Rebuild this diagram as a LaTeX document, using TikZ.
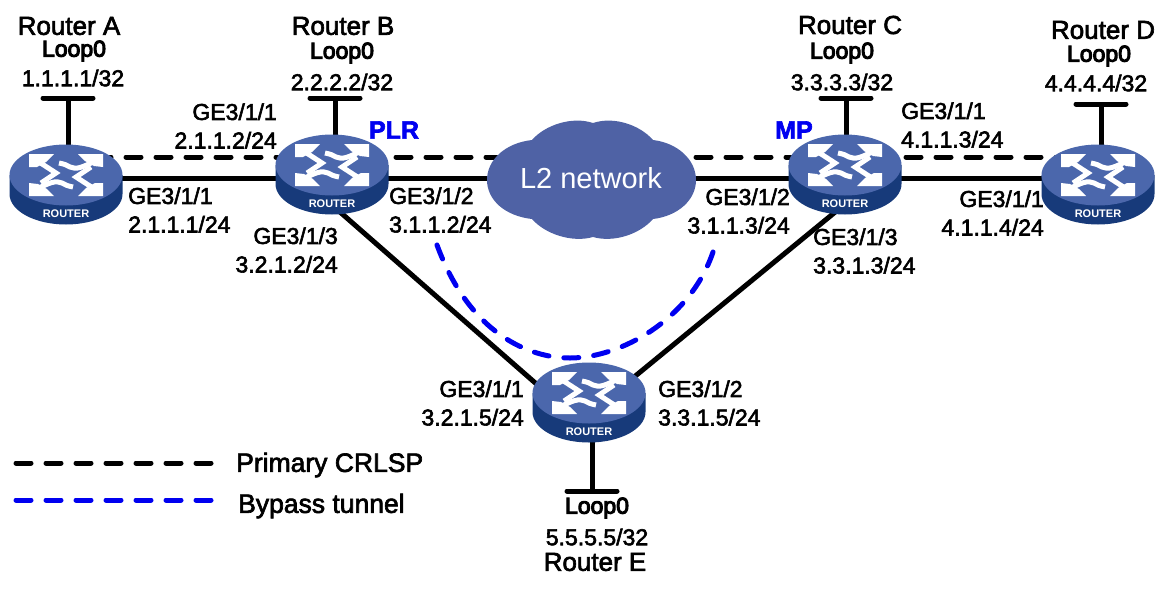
\documentclass[tikz,border=0pt]{standalone}
\usepackage{fontspec}
\setmainfont{Liberation Sans}[FakeBold=2.5]
\newfontfamily\plainfont{Liberation Sans}
\newfontfamily\heavyfont{Liberation Sans}[FakeBold=4.5]
\definecolor{routertop}{HTML}{4B67AC}
\definecolor{routerside}{HTML}{173A7A}
\definecolor{cloudblue}{HTML}{4F62A5}
\definecolor{tunnelblue}{HTML}{0000F0}
\tikzset{
	link/.style={line width=5pt},
	primary/.style={line width=5pt, line cap=round, dash pattern=on 15pt off 15pt},
	bypass/.style={primary, color=tunnelblue},
	loopbar/.style={line width=5pt, line cap=round},
	iflabel/.style={inner sep=0pt, align=left, font=\fontsize{23}{28.5}\selectfont},
	rname/.style={inner sep=0pt, font=\fontsize{26}{26}\selectfont},
	loopname/.style={inner sep=0pt, font=\fontsize{23}{23}\heavyfont},
	role/.style={inner sep=0pt, color=tunnelblue, font=\fontsize{25}{25}\selectfont\bfseries},
	legendtext/.style={inner sep=0pt, anchor=west, font=\fontsize{26.5}{26.5}\selectfont},
	pics/routericon/.style={code={
		% body, then the top face
		\fill[routerside] (-56.5,0) -- (-56.5,19) arc[start angle=180, end angle=360, x radius=56.5pt, y radius=30.5pt] -- (56.5,0) -- cycle;
		\fill[routertop] (0,0) ellipse[x radius=56.5pt, y radius=30.5pt];
		% the four arrows
		\fill[white] (-37,-21) -- (-12,-21) -- (-20,-13) -- (-29,-8) -- (-37,-8) -- cycle;
		\fill[white] (37,-21) -- (12,-21) -- (19,-14) -- (28,-9) -- (37,-8) -- cycle;
		\fill[white] (-37,21) -- (-12,21) -- (-19,14) -- (-28,9) -- (-37,8) -- cycle;
		\fill[white] (37,21) -- (12,21) -- (20,13) -- (29,8) -- (37,8) -- cycle;
		\draw[white, line width=5pt] (-27,-13) -- (-10,-2) -- (-25,8);
		\draw[white, line width=5pt] (27,13) -- (10,2) -- (25,-8);
		\draw[white, line width=5pt] (27,-13) .. controls (17,-8) and (10,-5) .. (4,-8) .. controls (1,-10) and (-2,-11) .. (-7,-12);
		\draw[white, line width=5pt] (-27,13) .. controls (-17,8) and (-10,5) .. (-4,8) .. controls (-1,10) and (2,11) .. (7,12);
		\node[inner sep=0pt, white, font=\fontsize{11}{11}\plainfont\bfseries] (label) at (0,39) {ROUTER};
	}},
}
\begin{document}
\begin{tikzpicture}[x=1pt, y=-1pt]
	\useasboundingbox (0,0) rectangle (1172,592);

	% 1. anchor points of the routers and loopback bars
	\coordinate (rA) at (66,178);
	\coordinate (rB) at (332,178);
	\coordinate (rC) at (845,178);
	\coordinate (rD) at (1098,178);
	\coordinate (dashA) at (66,157);
	\coordinate (dashD) at (1098,157);
	\coordinate (lowB) at (332,205);
	\coordinate (lowE) at (589,430);
	\coordinate (lowC) at (845,204);
	\coordinate (sideE) at (589,414);
	\coordinate (barA) at (68,98);
	\coordinate (barB) at (335,98);
	\coordinate (barC) at (846,98);
	\coordinate (barD) at (1101,104);
	\coordinate (barE) at (592,491);
	\coordinate (legA) at (16,463);
	\coordinate (legB) at (212,463);
	\coordinate (legC) at (16,500);
	\coordinate (legD) at (212,500);

	% 2. links, all below the routers and the cloud
	\draw[primary] (dashA) -- (dashD);
	\draw[link] (rA) -- (rB) -- (rC) -- (rD);
	\draw[link] (lowB) -- (lowE);
	\draw[link] (sideE) -- (lowC);
	\draw[link] (barA) -- (barA |- rA);
	\draw[link] (barB) -- (barB |- rB);
	\draw[link] (barC) -- (barC |- rC);
	\draw[link] (barD) -- (barD |- rD);
	\draw[link] (barE) -- (barE |- lowE);
	\draw[loopbar] ([xshift=-25pt]barA) -- ([xshift=25pt]barA);
	\draw[loopbar] ([xshift=-25pt]barB) -- ([xshift=25pt]barB);
	\draw[loopbar] ([xshift=-25pt]barC) -- ([xshift=25pt]barC);
	\draw[loopbar] ([xshift=-25pt]barD) -- ([xshift=25pt]barD);
	\draw[loopbar] ([xshift=-25pt]barE) -- ([xshift=25pt]barE);

	% 3. cloud
	\fill[cloudblue] (532,140) .. controls (545,125) and (572,116) .. (593,123)
		.. controls (614,116) and (640,125) .. (653,140)
		.. controls (678,143) and (696,160) .. (696,180)
		.. controls (696,200) and (678,216) .. (653,219)
		.. controls (640,234) and (614,243) .. (593,237)
		.. controls (572,243) and (545,234) .. (532,219)
		.. controls (505,216) and (487,200) .. (487,180)
		.. controls (487,160) and (505,143) .. (532,140) -- cycle;
	\node[inner sep=0pt, white, font=\fontsize{29}{29}\plainfont] (cloudname) at (591,178) {L2 network};

	% 4. routers
	\pic (picA) at (66,175) {routericon};
	\pic (picB) at (332,165) {routericon};
	\pic (picC) at (845,165) {routericon};
	\pic (picD) at (1098,175) {routericon};
	\pic (picE) at (589,393) {routericon};

	% 5. tunnel, drawn over the router links
	\draw[bypass] (437,245) .. controls (470,335) and (530,358) .. (570,358)
		.. controls (620,358) and (690,320) .. (713,252);

	% 6. names and loopback addresses
	\node[rname] (nameA) at (69,26) {Router A};
	\node[loopname] (loopA) at (74,51) {Loop0};
	\node[iflabel] (ipA) at (73,78) {1.1.1.1/32};
	\node[rname] (nameB) at (343,26) {Router B};
	\node[loopname] (loopB) at (342,53) {Loop0};
	\node[iflabel] (ipB) at (342,82) {2.2.2.2/32};
	\node[rname] (nameC) at (850,25) {Router C};
	\node[loopname] (loopC) at (842,53) {Loop0};
	\node[iflabel] (ipC) at (842,82) {3.3.3.3/32};
	\node[rname] (nameD) at (1103,30) {Router D};
	\node[loopname] (loopD) at (1099,56) {Loop0};
	\node[iflabel] (ipD) at (1096,83) {4.4.4.4/32};
	\node[loopname] (loopE) at (597,508) {Loop0};
	\node[iflabel] (ipE) at (597,537) {5.5.5.5/32};
	\node[rname] (nameE) at (595,562) {Router E};
	\node[role] (rolePLR) at (394,130) {PLR};
	\node[role] (roleMP) at (794,130) {MP};

	% 7. interface labels
	\node[iflabel, anchor=east, align=right] (ifBa) at (277,126) {GE3/1/1\\2.1.1.2/24};
	\node[iflabel, anchor=west] (ifAa) at (128,210) {GE3/1/1\\2.1.1.1/24};
	\node[iflabel, anchor=west] (ifBb) at (389,210) {GE3/1/2\\3.1.1.2/24};
	\node[iflabel, anchor=east, align=right] (ifBc) at (338,250) {GE3/1/3\\3.2.1.2/24};
	\node[iflabel, anchor=east, align=right] (ifCb) at (790,211) {GE3/1/2\\3.1.1.3/24};
	\node[iflabel, anchor=west] (ifCc) at (813,251) {GE3/1/3\\3.3.1.3/24};
	\node[iflabel, anchor=west] (ifCa) at (901,125) {GE3/1/1\\4.1.1.3/24};
	\node[iflabel, anchor=east, align=right] (ifDa) at (1044,213) {GE3/1/1\\4.1.1.4/24};
	\node[iflabel, anchor=east, align=right] (ifEa) at (524,403) {GE3/1/1\\3.2.1.5/24};
	\node[iflabel, anchor=west] (ifEb) at (658,403) {GE3/1/2\\3.3.1.5/24};

	% 8. legend
	\draw[primary] (legA) -- (legB);
	\draw[bypass] (legC) -- (legD);
	\node[legendtext] (legendP) at (236,465) {Primary CRLSP};
	\node[legendtext] (legendT) at (238,506) {Bypass tunnel};
\end{tikzpicture}
\end{document}
